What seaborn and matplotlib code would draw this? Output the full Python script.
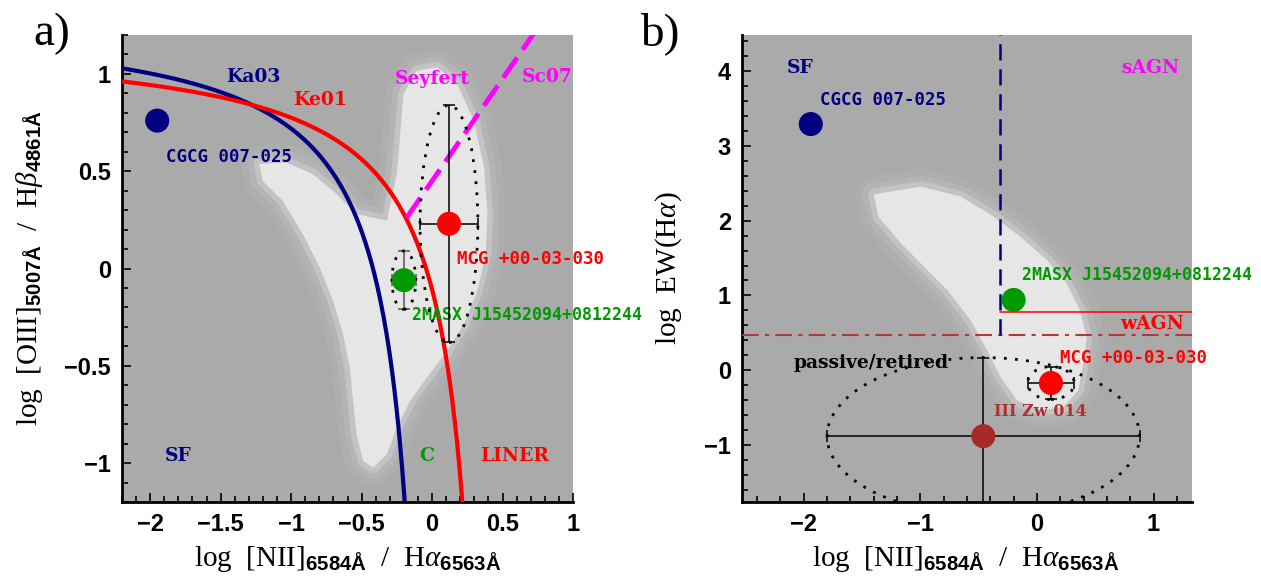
import numpy as np
import pandas as pd
import seaborn as sns
import matplotlib.pyplot as plt
from matplotlib.patches import Ellipse, Polygon
from matplotlib.ticker import MultipleLocator, FuncFormatter

# panel a) BPT diagram: log [NII]/Ha vs log [OIII]/Hb
bpt_names = ['CGCG 007-025', 'MCG +00-03-030', '2MASX J15452094+0812244']
bpt_nii = [-1.95, 0.12, -0.20]
bpt_oiii = [0.76, 0.23, -0.06]
bpt_nii_err = [0.0, 0.205, 0.085]
bpt_oiii_err = [0.0, 0.61, 0.15]

# panel b) WHAN diagram: log [NII]/Ha vs log EW(Ha)
whan_names = ['CGCG 007-025', '2MASX J15452094+0812244', 'MCG +00-03-030', 'III Zw 014']
whan_nii = [-1.94, -0.20, 0.12, -0.46]
whan_ew = [3.29, 0.94, -0.17, -0.88]
whan_nii_err = [0.0, 0.0, 0.20, 1.34]
whan_ew_err = [0.0, 0.0, 0.22, 1.05]

# outline of the SDSS comparison cloud
bpt_cloud_x = [-1.226, -1.036, -0.846, -0.679, -0.536, -0.321, -0.25, -0.226, -0.203, -0.107,
               0.036, 0.179, 0.297, 0.369, 0.393, 0.381, 0.321, 0.226, 0.107, -0.036,
               -0.155, -0.25, -0.321, -0.417, -0.489, -0.536, -0.56, -0.584, -0.631, -0.703,
               -0.798, -0.917, -1.06, -1.203]
bpt_cloud_y = [0.537, 0.545, 0.485, 0.383, 0.28, 0.245, 0.485, 0.691, 0.897, 1.017,
               1.034, 0.948, 0.76, 0.52, 0.28, 0.074, -0.115, -0.286, -0.423, -0.56,
               -0.68, -0.817, -0.954, -1.023, -0.989, -0.851, -0.68, -0.509, -0.337, -0.166,
               0.006, 0.177, 0.348, 0.451]
whan_cloud_x = [-1.40, -0.996, -0.654, -0.37, -0.142, 0.085, 0.256, 0.369, 0.427, 0.398,
                0.355, 0.227, 0.028, -0.171, -0.313, -0.427, -0.569, -0.768, -0.968, -1.166,
                -1.36]
whan_cloud_y = [2.35, 2.454, 2.32, 2.052, 1.785, 1.473, 1.16, 0.803, 0.446, 0.09,
                -0.268, -0.491, -0.535, -0.402, -0.09, 0.268, 0.669, 1.071, 1.383, 1.696,
                2.05]

# demarcation lines (Kauffmann+03, Kewley+01, Schawinski+07, Cid Fernandes+11)
ka03 = (0.61, 0.05, 1.30)
ke01 = (0.61, 0.47, 1.19)
sc07 = (1.05, 0.45)
whan_nii_cut = -0.32
whan_weak_cut = np.log10(3)
whan_strong_cut = np.log10(6)

navy = '#000080'
red = '#ff0000'
green = '#009a00'
magenta = '#ff00ff'
brown = '#a52a2a'
obj_colors = {'CGCG 007-025': navy, 'MCG +00-03-030': red,
              '2MASX J15452094+0812244': green, 'III Zw 014': brown}
bar_colors = {'MCG +00-03-030': 'black', '2MASX J15452094+0812244': '#555555',
              'III Zw 014': 'black'}

sns.set_theme(style='ticks')
plt.rcParams['font.family'] = ['Liberation Serif', 'DejaVu Serif']
plt.rcParams['axes.labelcolor'] = 'black'
plt.rcParams['text.color'] = 'black'
plt.rcParams['mathtext.fontset'] = 'custom'
plt.rcParams['mathtext.rm'] = 'Liberation Serif'
plt.rcParams['mathtext.it'] = 'Liberation Serif:italic'
plt.rcParams['mathtext.bf'] = 'Liberation Sans:bold'

objfont = dict(family='DejaVu Sans Mono', fontweight='bold', fontsize=12.5)
regfont = dict(family='DejaVu Serif', fontweight='bold', fontsize=13.5)
cloud = '#e6e6e6'


def draw_cloud(ax, xs, ys):
    pts = np.column_stack([xs, ys])
    for lw, a in [(26, 0.07), (16, 0.12), (8, 0.3)]:
        ax.add_patch(Polygon(pts, closed=True, facecolor='none', edgecolor=cloud, lw=lw,
                             alpha=a, joinstyle='round', zorder=1))
    ax.add_patch(Polygon(pts, closed=True, facecolor=cloud, edgecolor='none', zorder=1.2))


def draw_points(ax, names, xs, ys, xerr, yerr):
    df = pd.DataFrame({'name': names, 'x': xs, 'y': ys})
    sns.scatterplot(data=df, x='x', y='y', hue='name', palette=obj_colors, s=300,
                    edgecolor='none', legend=False, ax=ax, zorder=6)
    for n, x, y, ex, ey in zip(names, xs, ys, xerr, yerr):
        if ex == 0 and ey == 0:
            continue
        ax.errorbar(x, y, xerr=ex, yerr=ey, fmt='none', ecolor=bar_colors[n],
                    elinewidth=1.1, capsize=4, capthick=1.1, zorder=5)
        ax.add_patch(Ellipse((x, y), 2 * ex, 2 * ey, fill=False, ec='black', lw=2,
                             ls=(0, (1, 3)), zorder=5))


def style_axes(ax, xmaj, xmin, ymaj, ymin):
    ax.set_facecolor('#aaaaaa')
    for s in ['top', 'right']:
        ax.spines[s].set_visible(False)
    for s in ['left', 'bottom']:
        ax.spines[s].set_linewidth(2)
        ax.spines[s].set_color('black')
    ax.xaxis.set_major_locator(MultipleLocator(xmaj))
    ax.xaxis.set_minor_locator(MultipleLocator(xmin))
    ax.yaxis.set_major_locator(MultipleLocator(ymaj))
    ax.yaxis.set_minor_locator(MultipleLocator(ymin))
    fmt = FuncFormatter(lambda v, p: ('%g' % v).replace('-', '\u2212'))
    ax.xaxis.set_major_formatter(fmt)
    ax.yaxis.set_major_formatter(fmt)
    ax.tick_params(which='major', direction='in', length=6.5, width=1.2, color='black', pad=8)
    ax.tick_params(which='minor', direction='in', length=4, width=1.2, color='black')
    for lab in ax.get_xticklabels() + ax.get_yticklabels():
        lab.set_fontfamily('Liberation Sans')
        lab.set_fontweight('bold')
        lab.set_fontsize(17)
        lab.set_color('black')


fig = plt.figure(figsize=(12.61, 5.77), dpi=100)
ax1 = fig.add_axes([122 / 1261, 75 / 577, 451 / 1261, 467 / 577])
ax2 = fig.add_axes([742 / 1261, 75 / 577, 450 / 1261, 467 / 577])

# ---- a) BPT ----
draw_cloud(ax1, bpt_cloud_x, bpt_cloud_y)
xa = np.linspace(-2.3, ka03[1] + ka03[0] / (-1.25 - ka03[2]), 300)
ax1.plot(xa, ka03[0] / (xa - ka03[1]) + ka03[2], color=navy, lw=3, zorder=3)
xk = np.linspace(-2.3, ke01[1] + ke01[0] / (-1.25 - ke01[2]), 300)
ax1.plot(xk, ke01[0] / (xk - ke01[1]) + ke01[2], color=red, lw=3, zorder=3)
xs = np.array([-0.18, 0.8])
ax1.plot(xs, sc07[0] * xs + sc07[1], color=magenta, lw=3.5, ls=(0, (5, 2)), zorder=3)
draw_points(ax1, bpt_names, bpt_nii, bpt_oiii, bpt_nii_err, bpt_oiii_err)

ax1.text(-1.89, 0.575, 'CGCG 007-025', color=navy, ha='left', va='center', **objfont)
ax1.text(0.18, 0.05, 'MCG +00-03-030', color=red, ha='left', va='center', **objfont)
ax1.text(-0.14, -0.24, '2MASX J15452094+0812244', color=green, ha='left', va='center',
         clip_on=False, **{**objfont, 'fontsize': 12})
ax1.text(-1.27, 0.984, 'Ka03', color=navy, ha='center', va='center', **regfont)
ax1.text(-0.795, 0.865, 'Ke01', color=red, ha='center', va='center', **regfont)
ax1.text(0.0, 0.973, 'Seyfert', color=magenta, ha='center', va='center', **regfont)
ax1.text(0.816, 0.984, 'Sc07', color=magenta, ha='center', va='center', **regfont)
ax1.text(-1.8, -0.965, 'SF', color=navy, ha='center', va='center', **regfont)
ax1.text(-0.037, -0.965, 'C', color=green, ha='center', va='center', **regfont)
ax1.text(0.584, -0.965, 'LINER', color=red, ha='center', va='center', **regfont)

ax1.set_xlim(-2.2, 1.0)
ax1.set_ylim(-1.2, 1.2)
style_axes(ax1, 0.5, 0.1, 0.5, 0.1)
ax1.set_xlabel(r'log  [NII]$_{\mathbf{6584\AA}}$  /  H$\alpha_{\mathbf{6563\AA}}$', fontsize=21)
ax1.set_ylabel(r'log  [OIII]$_{\mathbf{5007\AA}}$  /  H$\beta_{\mathbf{4861\AA}}$', fontsize=21)
ax1.xaxis.set_label_coords(0.5, -0.09)
ax1.yaxis.set_label_coords(-0.171, 0.5)

# ---- b) WHAN ----
draw_cloud(ax2, whan_cloud_x, whan_cloud_y)
ax2.axhline(whan_weak_cut, color='#b03a3a', lw=1.5, ls=(0, (8, 3, 2, 3)), zorder=3)
ax2.plot([whan_nii_cut, whan_nii_cut], [whan_weak_cut, 4.6], color=navy, lw=1.8,
         ls=(0, (6.5, 3.5)), zorder=3)
ax2.plot([whan_nii_cut, 1.4], [whan_strong_cut, whan_strong_cut], color=red, lw=1.1, zorder=3)
draw_points(ax2, whan_names, whan_nii, whan_ew, whan_nii_err, whan_ew_err)

ax2.text(-1.86, 3.61, 'CGCG 007-025', color=navy, ha='left', va='center', **objfont)
ax2.text(-0.125, 1.27, '2MASX J15452094+0812244', color=green, ha='left', va='center',
         clip_on=False, **{**objfont, 'fontsize': 12})
ax2.text(0.2, 0.165, 'MCG +00-03-030', color=red, ha='left', va='center', **objfont)
ax2.text(-0.37, -0.55, 'III Zw 014', color='#b03030', ha='left', va='center',
         family='DejaVu Serif', fontweight='bold', fontsize=11.5)
ax2.text(-2.03, 4.04, 'SF', color=navy, ha='center', va='center', **regfont)
ax2.text(0.975, 4.04, 'sAGN', color=magenta, ha='center', va='center', **regfont)
ax2.text(0.99, 0.62, 'wAGN', color=red, ha='center', va='center', **regfont)
ax2.text(-1.418, 0.1, 'passive/retired', color='black', ha='center', va='center', **regfont)

ax2.set_xlim(-2.53, 1.33)
ax2.set_ylim(-1.76, 4.48)
style_axes(ax2, 1, 0.2, 1, 0.2)
ax2.set_xlabel(r'log  [NII]$_{\mathbf{6584\AA}}$  /  H$\alpha_{\mathbf{6563\AA}}$', fontsize=21)
ax2.set_ylabel(r'log  EW(H$\alpha$)', fontsize=21)
ax2.xaxis.set_label_coords(0.496, -0.09)
ax2.yaxis.set_label_coords(-0.129, 0.5)

fig.text(33 / 1261, 1 - 45 / 577, 'a)', fontsize=34, family='Liberation Serif', va='baseline')
fig.text(640 / 1261, 1 - 45 / 577, 'b)', fontsize=34, family='Liberation Serif', va='baseline')

fig.savefig('out.png', dpi=100)
